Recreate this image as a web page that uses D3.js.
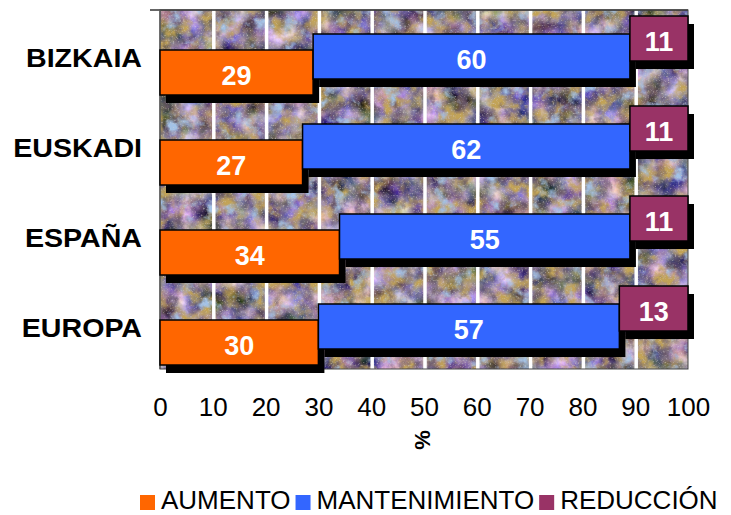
<!DOCTYPE html>
<html>
<head>
<meta charset="utf-8">
<script src="https://cdn.jsdelivr.net/npm/d3@7"></script>
<style>
  body { margin: 0; background: #fff; }
  text { font-family: Arial, "Liberation Sans", sans-serif; }
</style>
</head>
<body>
<div id="chart"></div>
<script>
// data
const categories = ["BIZKAIA", "EUSKADI", "ESPAÑA", "EUROPA"];
const seriesNames = ["AUMENTO", "MANTENIMIENTO", "REDUCCIÓN"];
const aumento = [29, 27, 34, 30];
const mantenimiento = [60, 62, 55, 57];
const reduccion = [11, 11, 11, 13];
const xTicks = [0, 10, 20, 30, 40, 50, 60, 70, 80, 90, 100];
const axisTitle = "%";

const colors = ["#ff6600", "#3366ff", "#993366"];
const values = [aumento, mantenimiento, reduccion];

const width = 731, height = 515;
const plot = { left: 160, right: 688, top: 10, bottom: 369 };

const svg = d3.select("#chart").append("svg")
  .attr("width", width)
  .attr("height", height);

// stone texture for the plot area
const defs = svg.append("defs");
const f = defs.append("filter").attr("id", "stone")
  .attr("x", 0).attr("y", 0).attr("width", 1).attr("height", 1)
  .attr("filterUnits", "objectBoundingBox")
  .attr("color-interpolation-filters", "sRGB");
f.append("feTurbulence").attr("type", "fractalNoise").attr("baseFrequency", 0.045)
  .attr("numOctaves", 5).attr("seed", 3).attr("result", "n1");
f.append("feColorMatrix").attr("in", "n1").attr("type", "matrix")
  .attr("values", "1.2 0 0 0 -0.06  1.0 0.3 0 0 -0.17  0.8 0 0.8 0 -0.22  0 0 0 0 1")
  .attr("result", "base");
f.append("feTurbulence").attr("type", "fractalNoise").attr("baseFrequency", 0.055)
  .attr("numOctaves", 4).attr("seed", 11).attr("result", "n2");
f.append("feColorMatrix").attr("in", "n2").attr("type", "matrix")
  .attr("values", "0 0 0 0 0.76  0 0 0 0 0.64  0 0 0 0 0.34  0 3.5 0 0 -1.7")
  .attr("result", "ochre");
f.append("feComposite").attr("in", "ochre").attr("in2", "base").attr("operator", "over")
  .attr("result", "c1");
f.append("feTurbulence").attr("type", "fractalNoise").attr("baseFrequency", 0.07)
  .attr("numOctaves", 4).attr("seed", 21).attr("result", "n3");
f.append("feColorMatrix").attr("in", "n3").attr("type", "matrix")
  .attr("values", "0 0 0 0 0.40  0 0 0 0 0.33  0 0 0 0 0.40  0 0 3 0 -1.75")
  .attr("result", "dark");
f.append("feComposite").attr("in", "dark").attr("in2", "c1").attr("operator", "over")
  .attr("result", "c2");
f.append("feTurbulence").attr("type", "fractalNoise").attr("baseFrequency", 0.06)
  .attr("numOctaves", 4).attr("seed", 37).attr("result", "n5");
f.append("feColorMatrix").attr("in", "n5").attr("type", "matrix")
  .attr("values", "0 0 0 0 0.64  0 0 0 0 0.76  0 0 0 0 0.90  4 0 0 0 -2.3")
  .attr("result", "light");
f.append("feComposite").attr("in", "light").attr("in2", "c2").attr("operator", "over")
  .attr("result", "c3");
f.append("feTurbulence").attr("type", "fractalNoise").attr("baseFrequency", 0.6)
  .attr("numOctaves", 2).attr("seed", 5).attr("result", "n4");
f.append("feColorMatrix").attr("in", "n4").attr("type", "matrix")
  .attr("values", "0 0 0 0 0.85  0 0 0 0 0.82  0 0 0 0 0.80  2 0 0 0 -1.15")
  .attr("result", "grain");
f.append("feComposite").attr("in", "grain").attr("in2", "c3").attr("operator", "over");

// scales
const x = d3.scaleLinear().domain([0, 100]).range([plot.left, plot.right]);
const y = d3.scaleBand().domain(categories).range([plot.top, plot.bottom + 1]);
// each series sits a little higher than the one before (3D depth look)
const depth = d3.scaleOrdinal().domain(seriesNames).range([40, 24, 6]);
const barH = 45;

svg.append("rect")
  .attr("x", plot.left).attr("y", plot.top)
  .attr("width", plot.right - plot.left).attr("height", plot.bottom - plot.top)
  .attr("fill", "#8f95ad")
  .attr("filter", "url(#stone)");

// white gridlines
svg.append("g").selectAll("line")
  .data(xTicks.filter(d => d > 0 && d < 100))
  .join("line")
  .attr("x1", d => x(d) + 1).attr("x2", d => x(d) + 1)
  .attr("y1", plot.top).attr("y2", plot.bottom)
  .attr("stroke", "#fff").attr("stroke-width", 3.5);

// plot frame
svg.append("line").attr("x1", 150).attr("x2", plot.right)
  .attr("y1", plot.top).attr("y2", plot.top)
  .attr("stroke", "#333").attr("stroke-width", 1.5);
svg.append("line").attr("x1", plot.left).attr("x2", plot.left)
  .attr("y1", plot.top).attr("y2", plot.bottom)
  .attr("stroke", "#777").attr("stroke-width", 1.5);
svg.append("rect").attr("x", plot.left).attr("y", plot.top)
  .attr("width", plot.right - plot.left).attr("height", plot.bottom - plot.top)
  .attr("fill", "none").attr("stroke", "#444").attr("stroke-width", 1);

// bars
const stacked = categories.map((c, i) => {
  let start = 0;
  return seriesNames.map((s, k) => {
    const d = { cat: c, series: s, k: k, v: values[k][i], x0: start };
    start += values[k][i];
    return d;
  });
});

const barsG = svg.append("g");
seriesNames.forEach((s, k) => {
  const rows = stacked.map(r => r[k]);
  const g = barsG.append("g");
  g.selectAll("rect.shadow").data(rows).join("rect")
    .attr("class", "shadow")
    .attr("x", d => x(d.x0) + 6)
    .attr("y", d => y(d.cat) + depth(s) + 8)
    .attr("width", d => x(d.x0 + d.v) - x(d.x0))
    .attr("height", barH)
    .attr("fill", "#000");
  g.selectAll("rect.bar").data(rows).join("rect")
    .attr("class", "bar")
    .attr("x", d => x(d.x0))
    .attr("y", d => y(d.cat) + depth(s))
    .attr("width", d => x(d.x0 + d.v) - x(d.x0))
    .attr("height", barH)
    .attr("fill", colors[k])
    .attr("stroke", "#000").attr("stroke-width", 1.5);
  g.selectAll("text").data(rows).join("text")
    .attr("x", d => x(d.x0 + d.v / 2))
    .attr("y", d => y(d.cat) + depth(s) + barH / 2 + 3)
    .attr("dy", "0.36em")
    .attr("text-anchor", "middle")
    .attr("fill", "#fff")
    .attr("font-weight", "bold")
    .attr("font-size", 27)
    .text(d => d.v);
});

// category labels
svg.append("g").selectAll("text").data(categories).join("text")
  .attr("transform", d => `translate(142, ${y(d) + 48}) scale(1.1, 1)`)
  .attr("dy", "0.36em")
  .attr("text-anchor", "end")
  .attr("font-weight", "bold")
  .attr("font-size", 26)
  .text(d => d);

// x axis
const xAxis = d3.axisBottom(x).tickValues(xTicks).tickSize(0).tickPadding(29);
const ax = svg.append("g")
  .attr("transform", `translate(0, ${plot.bottom})`)
  .call(xAxis);
ax.select(".domain").remove();
ax.selectAll("text")
  .attr("font-size", 26)
  .attr("fill", "#000")
  .style("font-family", "Arial, 'Liberation Sans', sans-serif");

svg.append("text")
  .attr("transform", "translate(422, 440) rotate(-90)")
  .attr("text-anchor", "middle")
  .attr("dy", "0.35em")
  .attr("font-weight", "bold")
  .attr("font-size", 22)
  .text(axisTitle);

// legend
const legend = svg.append("g");
let lx = 140;
seriesNames.forEach((s, k) => {
  legend.append("rect")
    .attr("x", lx).attr("y", 495)
    .attr("width", 15).attr("height", 15)
    .attr("fill", colors[k]);
  const t = legend.append("text")
    .attr("x", lx + 21).attr("y", 509)
    .attr("font-size", 26)
    .text(s);
  lx += 21 + t.node().getComputedTextLength() + 5;
});
</script>
</body>
</html>
